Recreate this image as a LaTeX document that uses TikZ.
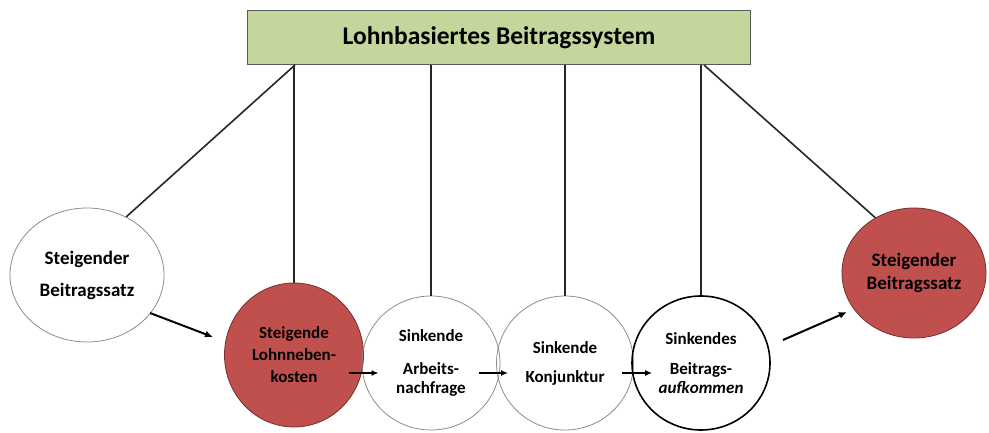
\documentclass[tikz,border=0pt]{standalone}
\usepackage{fontspec}
\setmainfont{Carlito}
\usetikzlibrary{shapes.geometric,arrows.meta}
\definecolor{boxgreen}{HTML}{C3D69B}
\definecolor{accred}{HTML}{C0504D}
\begin{document}
\begin{tikzpicture}[x=1pt,y=-1pt,
 circ/.style={ellipse, draw=black!45, line width=0.8pt, inner sep=0pt, align=center},
 redc/.style={circ, fill=accred, draw=accred!60!black},
 link/.style={draw=black!85, line width=1.6pt},
 flow/.style={-{Latex[length=8pt,width=7pt]}, line width=2pt},
 sflow/.style={-{Latex[length=7pt,width=6pt]}, line width=1.6pt}]
\useasboundingbox (0,0) rectangle (989,433);
\node[draw=black!65, line width=0.8pt, fill=boxgreen, minimum width=503pt, minimum height=54pt, inner sep=0pt,
  font=\bfseries\fontsize{25.5}{30}\selectfont] (top) at (499,37.5) {Lohnbasiertes Beitragssystem};
\node[circ, minimum width=154pt, minimum height=134pt, font=\bfseries\fontsize{19}{32}\selectfont] (c1) at (87,275) {Steigender\\Beitragssatz};
\node[redc, minimum width=139pt, minimum height=144pt, font=\bfseries\fontsize{17}{22}\selectfont] (c2) at (294,355) {Steigende\\Lohnneben-\\kosten};
\node[circ, minimum width=138pt, minimum height=134pt, font=\bfseries\fontsize{17}{19}\selectfont] (c3) at (431,363) {Sinkende\\[14pt]Arbeits-\\nachfrage};
\node[circ, minimum width=137pt, minimum height=134pt, font=\bfseries\fontsize{17}{29}\selectfont] (c4) at (565,363) {Sinkende\\Konjunktur};
\node[circ, draw=black, line width=1.6pt, minimum width=138pt, minimum height=134pt, font=\bfseries\fontsize{17}{19}\selectfont] (c5) at (701,363) {Sinkendes\\[11pt]Beitrags-\\\itshape aufkommen};
\node[redc, minimum width=144pt, minimum height=130pt, font=\bfseries\fontsize{19}{23}\selectfont] (c6) at (914,273) {Steigender\\Beitragssatz};
\coordinate (tl) at (295,65);
\coordinate (tr) at (704,65);
\draw[link] (tl) -- (c1.56);
\draw[link] (tr) -- (c6.125);
\draw[link] (c2.north |- top.south) -- (c2.north);
\draw[link] (c3.north |- top.south) -- (c3.north);
\draw[link] (c4.north |- top.south) -- (c4.north);
\draw[link] (c5.north |- top.south) -- (c5.north);
\coordinate (a1s) at (150,313);
\coordinate (a1e) at (213,337);
\coordinate (a2s) at (783,340);
\coordinate (a2e) at (847,312);
\draw[flow] (a1s) -- (a1e);
\draw[flow] (a2s) -- (a2e);
\draw[sflow] ([xshift=-15pt]c2.east |- 0,373) -- ([xshift=17pt]c3.west |- 0,373);
\draw[sflow] ([xshift=-21pt]c3.east |- 0,373) -- ([xshift=12pt]c4.west |- 0,373);
\draw[sflow] ([xshift=-12pt]c4.east |- 0,373) -- ([xshift=21pt]c5.west |- 0,373);
\end{tikzpicture}
\end{document}
